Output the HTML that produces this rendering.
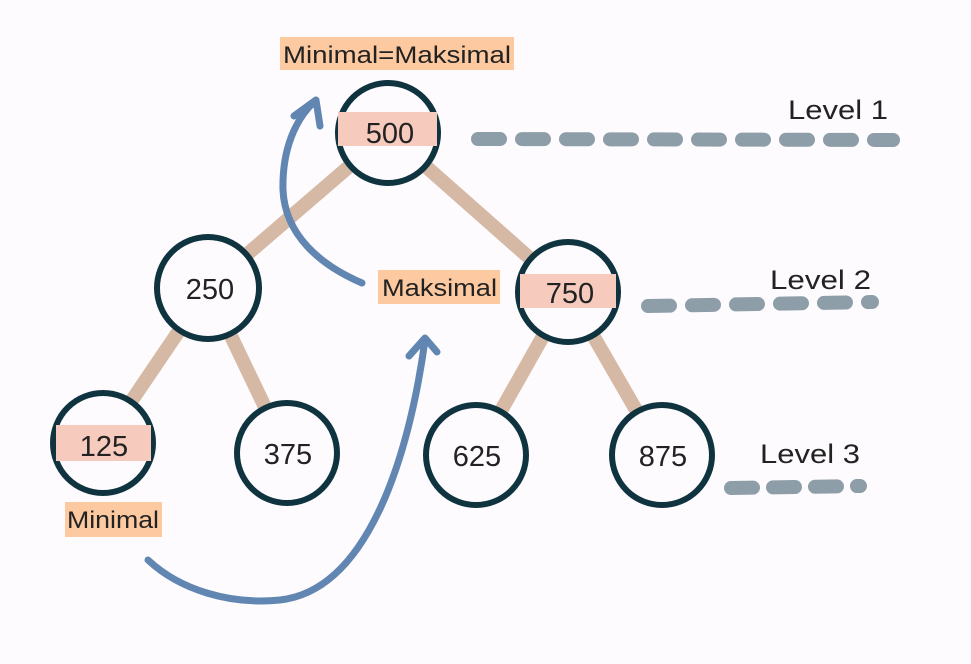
<!DOCTYPE html>
<html><head><style>body{margin:0;background:#fdfbfd}</style></head><body>
<svg width="971" height="659" viewBox="0 0 971 659" xmlns="http://www.w3.org/2000/svg" font-family="Liberation Sans, sans-serif">
<rect width="971" height="659" fill="#fdfbfd"/>
<g stroke="#d6b9a5" stroke-width="14" stroke-linecap="round">
<line x1="388" y1="133" x2="208" y2="288"/>
<line x1="388" y1="133" x2="568" y2="292"/>
<line x1="208" y1="288" x2="103" y2="443"/>
<line x1="208" y1="288" x2="287" y2="453"/>
<line x1="568" y1="292" x2="476" y2="455"/>
<line x1="568" y1="292" x2="662" y2="455"/>
</g>
<g fill="#fdfbfd" stroke="#0f3440" stroke-width="6">
<circle cx="388" cy="133" r="50"/><circle cx="208" cy="288" r="51"/><circle cx="568" cy="292" r="50"/>
<circle cx="103" cy="443" r="50"/><circle cx="287" cy="453" r="50"/><circle cx="476" cy="455" r="50"/><circle cx="662" cy="455" r="50"/>
</g>
<g fill="#f6cbbd">
<rect x="338" y="112" width="99" height="34"/><rect x="520" y="274" width="96" height="34"/><rect x="56" y="425" width="95" height="36"/>
</g>
<g fill="#222" font-size="29" text-anchor="middle">
<text x="390" y="143">500</text><text x="210" y="299">250</text><text x="570" y="303">750</text>
<text x="104" y="456">125</text><text x="288" y="464">375</text><text x="477" y="466">625</text><text x="663" y="466">875</text>
</g>
<g fill="#fdc9a0"><rect x="280" y="37" width="234" height="33"/><rect x="378" y="270" width="122" height="34"/><rect x="65" y="502" width="97" height="35"/></g>
<g fill="#222" font-size="24">
<text x="283" y="63" textLength="228" lengthAdjust="spacingAndGlyphs">Minimal=Maksimal</text>
<text x="382" y="296" textLength="115" lengthAdjust="spacingAndGlyphs">Maksimal</text>
<text x="67" y="528" textLength="92" lengthAdjust="spacingAndGlyphs">Minimal</text>
</g>
<g fill="#222" font-size="27">
<text x="788" y="119" textLength="100" lengthAdjust="spacingAndGlyphs">Level 1</text>
<text x="770" y="289" textLength="101" lengthAdjust="spacingAndGlyphs">Level 2</text>
<text x="760" y="463" textLength="100" lengthAdjust="spacingAndGlyphs">Level 3</text>
</g>
<g stroke="#8e9ea8" stroke-width="14" stroke-linecap="round" fill="none">
<path d="M478 139 L893 140" stroke-dasharray="22 22"/>
<path d="M648 306 L872 302" stroke-dasharray="22 22"/>
<path d="M731 488 L860 486" stroke-dasharray="22 20"/>
</g>
<g stroke="#6186b2" stroke-width="7" stroke-linecap="round" stroke-linejoin="round" fill="none">
<path d="M362 283 C320 265 285 235 283 190 C282 150 295 120 314 102"/>
<path d="M294 116 L316 100 L320 126"/>
<path d="M148 560 C180 590 230 605 280 600 C370 590 410 450 425 340"/>
<path d="M409 356 L425 338 L437 352"/>
</g>
</svg>
</body></html>
